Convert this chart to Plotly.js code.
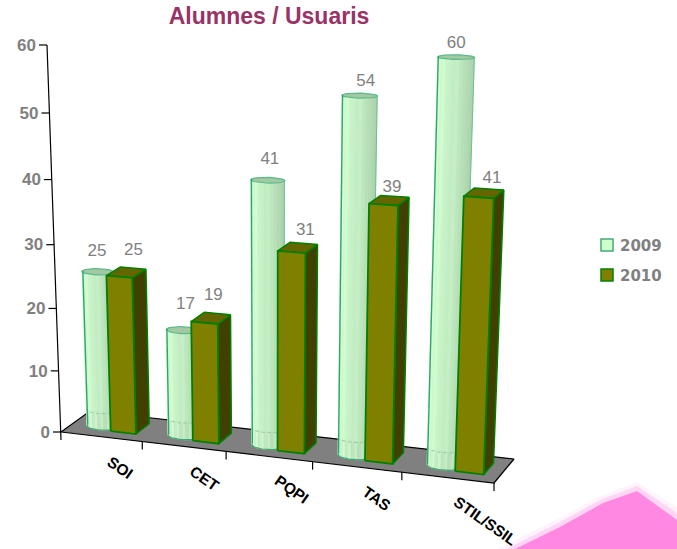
<!DOCTYPE html>
<html><head><meta charset="utf-8">
<script src="https://cdn.plot.ly/plotly-3.0.1.min.js"></script>
<style>html,body{margin:0;padding:0;background:#fff}#c{width:677px;height:549px}</style>
</head><body><div id="c"></div>
<script>
const categories = ['SOI','CET','PQPI','TAS','STIL/SSIL'];
const values2009 = [25,17,41,54,60];
const values2010 = [25,19,31,39,41];
const yTicks = [0,10,20,30,40,50,60];
const seriesNames = ['2009','2010'];
const vMax = 60;

// perspective projection: u along categories (0-1), v value, d depth (0-1)
const c00=[61,432], c10=[494,483], c01=[90,411], c11=[514,459], top0=[47,45];
const H=(function(){
  const [x0,y0]=c00,[x1,y1]=c10,[x2,y2]=c11,[x3,y3]=c01;
  const dx1=x1-x2,dx2=x3-x2,sx=x0-x1+x2-x3,dy1=y1-y2,dy2=y3-y2,sy=y0-y1+y2-y3;
  const den=dx1*dy2-dx2*dy1;
  const g=(sx*dy2-dx2*sy)/den,h=(dx1*sy-sx*dy1)/den;
  const wv=-0.062;
  return {a:x1-x0+g*x1,b:x3-x0+h*x3,c:x0,d:y1-y0+g*y1,e:y3-y0+h*y3,f:y0,g,h,wv,
    ax:top0[0]*(1+wv)-x0,ay:top0[1]*(1+wv)-y0};
})();
function P(u,v,d){
  const t=v/vMax,w=1+H.g*u+H.h*d+H.wv*t;
  return [(H.a*u+H.b*d+H.c+H.ax*t)/w,(H.d*u+H.e*d+H.f+H.ay*t)/w];
}
const traces=[];
function poly(pts,fill,lineColor,lineW){
  traces.push({type:'scatter',mode:'lines',x:pts.map(p=>p[0]).concat(pts[0][0]),y:pts.map(p=>p[1]).concat(pts[0][1]),
    fill:'toself',fillcolor:fill,line:{color:lineColor||fill,width:lineW===undefined?0.6:lineW},hoverinfo:'skip',showlegend:false});
}
function line(pts,color,w,dash){
  traces.push({type:'scatter',mode:'lines',x:pts.map(p=>p[0]),y:pts.map(p=>p[1]),line:{color:color,width:w,dash:dash||'solid'},hoverinfo:'skip',showlegend:false});
}
// floor
poly([P(0,0,0),P(1,0,0),P(1,0,1),P(0,0,1)],'#808080','#000000',1.2);

const shade=['#c0ecc0','#ccfacc','#d0ffd0','#d2ffd2','#ccf8cc','#d0fcd0','#c8f4c8','#c6f0c6','#c2ecc2','#c4eec4','#bce6bc','#b8e0b8','#b4dcb4','#b0d8b0','#acd4ac','#a8d0a8'];
const shadeLow=['#c4f0c4','#d0fcd0','#c4f0c4','#d2ffd2','#c8f4c8','#d2fcd2','#c2ecc2','#ccf4cc','#bee6be','#c6eec6','#b8e0b8','#c0e8c0','#b4dcb4','#bce4bc','#b0d8b0','#acd4ac'];
const uW=0.2, ru=0.037, rd=0.16, dcCyl=0.42, ufCyl=0.365;
function cylinder(i,val){
  const uc=(i+ufCyl)*uW, n=shade.length, lowV=2.7;
  const pt=(th,v)=>P(uc+ru*Math.cos(th),v,dcCyl-rd*Math.sin(th));
  for(let k=0;k<n;k++){
    const a=Math.PI*(1-k/n), b=Math.PI*(1-(k+1)/n);
    poly([pt(a,lowV),pt(b,lowV),pt(b,val),pt(a,val)],shade[k]);
    poly([pt(a,0),pt(b,0),pt(b,lowV),pt(a,lowV)],shadeLow[k]);
  }
  const arc=(v,from,to)=>{const o=[];for(let k=0;k<=32;k++){o.push(pt(from+(to-from)*k/32,v));}return o;};
  const ell=arc(val,0,2*Math.PI);
  poly(ell.slice(0,-1),'#a2c9a2','#5cb98a',1.2);
  line(arc(lowV,Math.PI,0),'#9ac6a2',1,'dot');
  line(arc(0,Math.PI,0),'#3aa76e',1.2);
  line([pt(Math.PI,0),pt(Math.PI,val)],'#2fa56b',1.4);
  line([pt(0,0),pt(0,val)],'#6cc196',1);
}
function box(i,val){
  const u0=(i+0.52)*uW,u1=(i+0.83)*uW,d0=0.27,d1=0.75,e='#008000';
  poly([P(u1,0,d0),P(u1,0,d1),P(u1,val,d1),P(u1,val,d0)],'#404000',e,1.5);
  poly([P(u0,val,d0),P(u1,val,d0),P(u1,val,d1),P(u0,val,d1)],'#666600',e,1.5);
  poly([P(u0,0,d0),P(u1,0,d0),P(u1,val,d0),P(u0,val,d0)],'#808000',e,1.8);
}
categories.forEach((c,i)=>{cylinder(i,values2009[i]);box(i,values2010[i]);});

// axes
const corner=P(0,0,0);
line([P(0,vMax,0),corner,[corner[0],corner[1]+8]],'#000000',1.2);
yTicks.forEach(t=>{const p=P(0,t,0);line([[p[0]-8,p[1]],p],'#000000',1.2);});
categories.forEach((c,i)=>{const p=P((i+1)*uW,0,0);line([p,[p[0],p[1]+8]],'#000000',1.2);});

// y labels
traces.push({type:'scatter',mode:'text',x:yTicks.map(t=>P(0,t,0)[0]-11),y:yTicks.map(t=>P(0,t,0)[1]+1.5),
  text:yTicks.map(String),textposition:'middle left',textfont:{family:'Liberation Sans',size:17,color:'#808080',weight:'bold'},hoverinfo:'skip',showlegend:false});
// value labels
function valueLabels(vals,uf,d,dy,nx,ny){
  traces.push({type:'scatter',mode:'text',x:vals.map((v,i)=>P((i+uf)*uW,v,d)[0]+1+nx[i]),y:vals.map((v,i)=>P((i+uf)*uW,v,d)[1]-dy+ny[i]),
    text:vals.map(String),textposition:'top center',textfont:{family:'Liberation Sans',size:17,color:'#808080'},hoverinfo:'skip',showlegend:false});
}
valueLabels(values2009,ufCyl,dcCyl,9,[-2,2,1,5,-1],[-3,-8,-3,4,4]);
valueLabels(values2010,0.73,0.5,9,[2,-3,2,-3,2],[-5,-6,0,4,3]);
// legend entries
[[values2009,'#ccffcc','#4aa878'],[values2010,'#808000','#008000']].forEach((s,i)=>{
  traces.push({type:'scatter',mode:'markers',name:seriesNames[i],x:[607],y:[245+30*i],hoverinfo:'skip',showlegend:false,
    marker:{symbol:'square',size:12,color:s[1],line:{color:s[2],width:1.5}}});
  traces.push({type:'scatter',mode:'text',name:seriesNames[i],x:[620],y:[247+30*i],text:[seriesNames[i]],textposition:'middle right',hoverinfo:'skip',showlegend:false,
    textfont:{family:'DejaVu Sans',size:15,color:'#808080',weight:'bold'}});
});

const annotations=categories.map((c,i)=>{
  const p=P((i+0.5)*uW,0,0);
  return {x:p[0],y:p[1]+13,xref:'x',yref:'y',text:'<b>'+c+'</b>',showarrow:false,textangle:35,xanchor:'left',yanchor:'top',
    font:{family:'Liberation Sans',size:15.5,color:'#000000'}};
});

const layout={
  width:677,height:549,margin:{l:0,r:0,t:0,b:0,autoexpand:false},paper_bgcolor:'#ffffff',plot_bgcolor:'rgba(0,0,0,0)',showlegend:false,
  title:{text:'<b>Alumnes / Usuaris</b>',font:{family:'Liberation Sans',size:23,color:'#993366'},x:269/677,xanchor:'center',y:1-16/549,yanchor:'middle'},
  xaxis:{range:[0,677],visible:false,fixedrange:true},
  yaxis:{range:[549,0],visible:false,fixedrange:true},
  annotations:annotations,
  shapes:[
   {type:'path',layer:'below',xref:'x',yref:'y',path:'M497,549 L556,520 L598,497 L637,482 L677,507 L677,549 Z',fillcolor:'#fff4fc',line:{width:0}},
   {type:'path',layer:'below',xref:'x',yref:'y',path:'M506,549 L558,523 L600,500 L637,486 L677,513 L677,549 Z',fillcolor:'#ffd6f4',line:{width:0}},
   {type:'path',layer:'below',xref:'x',yref:'y',path:'M515,549 L560,527 L603,503 L637,491 L677,520 L677,549 Z',fillcolor:'#ff88e2',line:{width:0}}
  ]
};
Plotly.newPlot('c',traces,layout,{displayModeBar:false,staticPlot:true});
</script></body></html>
